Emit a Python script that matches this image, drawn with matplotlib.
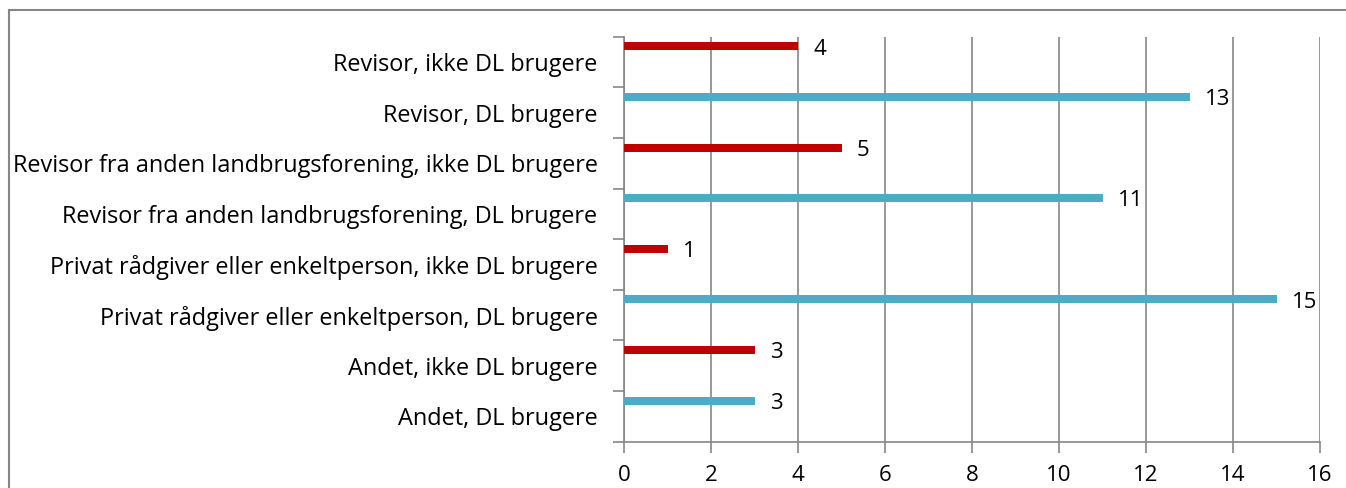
import matplotlib.pyplot as plt
import matplotlib.patches as mpatches
import numpy as np

# categories from bottom to top
categories = [
    "Andet, DL brugere",
    "Andet, ikke DL brugere",
    "Privat rådgiver eller enkeltperson, DL brugere",
    "Privat rådgiver eller enkeltperson, ikke DL brugere",
    "Revisor fra anden landbrugsforening, DL brugere",
    "Revisor fra anden landbrugsforening, ikke DL brugere",
    "Revisor, DL brugere",
    "Revisor, ikke DL brugere",
]
values = [3, 3, 15, 1, 11, 5, 13, 4]
bar_colors = ["#4BACC6", "#C00000"] * 4
x_ticks = [0, 2, 4, 6, 8, 10, 12, 14, 16]

plt.rcParams['font.family'] = ['Open Sans', 'DejaVu Sans']
fs = 16

fig = plt.figure(figsize=(13.46, 4.88), dpi=100)
ax = fig.add_axes([0.4636, 0.0949, 0.5171, 0.8299])

# outer chart border (only left and top edges visible in the crop)
fig.patches.append(mpatches.Rectangle((9 / 1346, -0.05), 1.0, 1 - 10 / 488 + 0.05,
                                      transform=fig.transFigure, fill=False,
                                      edgecolor="#868686", linewidth=1.5))

y = np.arange(len(categories))
# bars sit in the upper part of each category band
ax.barh(y + 0.31, values, height=0.16, color=bar_colors, zorder=3)

for yi, v in zip(y, values):
    ax.annotate(str(v), (v, yi + 0.31), xytext=(11, -2), textcoords="offset points",
                va="center", ha="left", fontsize=fs, color="black")

ax.set_xlim(0, 16)
ax.set_ylim(-0.5, len(categories) - 0.5)
ax.set_xticks(x_ticks)
ax.set_xticklabels([str(t) for t in x_ticks], fontsize=fs)
ax.set_yticks(np.arange(-0.5, len(categories), 1.0))
ax.set_yticklabels([])
ax.set_yticks(y, minor=True)
ax.set_yticklabels(categories, minor=True, fontsize=16.9)
ax.tick_params(axis="y", which="minor", length=0, pad=19)
ax.tick_params(axis="y", which="major", length=8, color="#868686", width=1.2)
ax.tick_params(axis="x", length=8, color="#868686", width=1.2, pad=9)

ax.grid(axis="x", color="#868686", linewidth=1.2, zorder=0)
for s in ["top", "right"]:
    ax.spines[s].set_visible(False)
for s in ["left", "bottom"]:
    ax.spines[s].set_color("#868686")
    ax.spines[s].set_linewidth(1.2)

fig.savefig("out.png", dpi=100)
